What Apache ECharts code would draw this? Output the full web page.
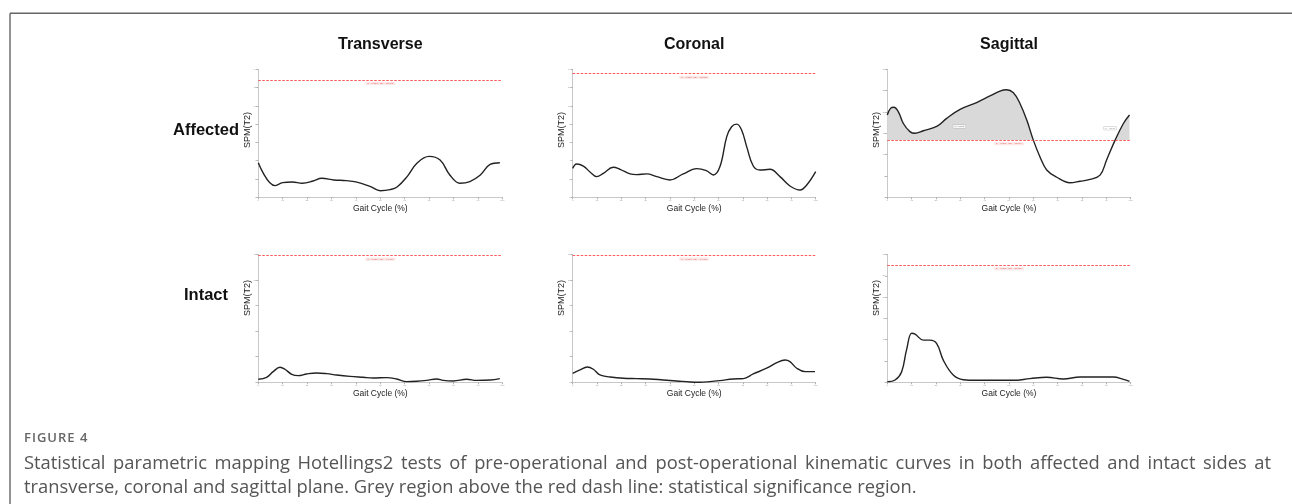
<!DOCTYPE html>
<html>
<head>
<meta charset="utf-8">
<script src="https://cdn.jsdelivr.net/npm/echarts@6/dist/echarts.min.js"></script>
<style>
  html, body { margin: 0; padding: 0; background: #fff; }
  #wrap { position: relative; width: 1292px; height: 504px; overflow: hidden; }
  #chart { position: absolute; left: 0; top: 0; width: 1292px; height: 504px; }
  .cap { position: absolute; font-family: 'Open Sans', 'Noto Sans', sans-serif; color: #555; }
  #fig { left: 24px; top: 428px; font-size: 13px; font-weight: 600; letter-spacing: 1px; color: #666; }
  #l1 { left: 24px; top: 449px; width: 1247px; font-size: 18.35px; text-align: justify; text-align-last: justify; white-space: nowrap; }
  #l2 { left: 24px; top: 473px; font-size: 18.35px; white-space: nowrap; }
</style>
</head>
<body>
<div id="wrap">
  <div id="chart"></div>
  <div class="cap" id="fig">FIGURE 4</div>
  <div class="cap" id="l1">Statistical parametric mapping Hotellings2 tests of pre-operational and post-operational kinematic curves in both affected and intact sides at</div>
  <div class="cap" id="l2">transverse, coronal and sagittal plane. Grey region above the red dash line: statistical significance region.</div>
</div>
<script>
// ---- data (x = gait cycle %, y = SPM{T2}) ----
const columnTitles = ['Transverse', 'Coronal', 'Sagittal'];
const rowTitles = ['Affected', 'Intact'];
const xTicks = [0, 10, 20, 30, 40, 50, 60, 70, 80, 90, 100];

const transAff = [[0,3.78],[6.8,1.28],[10,1.6],[14,1.68],[18,1.54],[22.5,1.78],[26,2.08],[31,1.9],[36,1.82],[40,1.68],[46,1.16],[50,0.72],[54,0.84],[57,1.16],[61,2.26],[65,3.72],[70,4.48],[74.5,4.08],[78.5,2.44],[82.6,1.54],[86.7,1.72],[91,2.44],[95,3.6],[99,3.78]];
const corAff = [[0,3.16],[1.6,3.64],[4.4,3.42],[7,2.8],[9.9,2.26],[12.6,2.62],[16.7,3.28],[19.5,3.06],[23.6,2.56],[26.3,2.48],[30.5,2.56],[34.6,2.26],[40,1.9],[45.5,2.56],[51,3.14],[55,2.92],[57.9,2.44],[60.6,3.36],[63.4,6.64],[65.4,7.72],[67.5,8.0],[69.5,7.36],[71.6,5.54],[74.3,3.42],[77,2.98],[81.2,3.06],[85.3,2.26],[89.4,1.24],[93.6,0.8],[96.3,1.34],[100,2.8]];
const sagAff = [[0,19.3],[1.4,20.9],[2.7,21.1],[4.5,20.1],[6.6,17.3],[9.3,15.4],[11.4,15.0],[14.8,15.6],[20.3,16.6],[24.4,18.5],[29.9,20.6],[36.7,22.2],[42.2,23.75],[46.3,24.9],[49,25.2],[51.8,24.5],[54.5,22.0],[57.3,18.1],[60,13.4],[62.7,9.5],[65.5,6.4],[69.6,4.7],[75,3.4],[79.2,3.75],[83.3,4.2],[87.4,5.2],[90.1,8.75],[93.6,13.4],[97,17.3],[99.5,19.3]];
const transInt = [[0,0.35],[3.4,0.59],[6.1,1.25],[8.9,1.76],[10.9,1.53],[13.7,0.94],[16.4,0.78],[19.8,0.98],[23.9,1.1],[28,1.02],[32.1,0.86],[37.6,0.7],[43,0.59],[47.1,0.51],[52.6,0.55],[56.7,0.39],[60.8,0.08],[64.9,0.12],[69,0.23],[73.1,0.39],[75.8,0.23],[79.9,0.16],[85.4,0.35],[89.5,0.23],[95,0.27],[99,0.43]];
const corInt = [[0,1.06],[3,1.45],[6,1.8],[8.5,1.53],[11.2,0.86],[15.4,0.63],[20.9,0.47],[26.3,0.43],[31.8,0.39],[37.3,0.27],[42.8,0.16],[48.3,0.04],[52.4,0.0],[56.5,0.08],[60.6,0.2],[66.1,0.39],[70.2,0.43],[74.3,0.98],[79.8,1.65],[84,2.31],[87.4,2.62],[89.4,2.43],[92.2,1.65],[95.6,1.25],[99.7,1.25]];
const sagInt = [[0,0.16],[3.2,0.55],[5.9,2.5],[7.9,7.6],[10,11.5],[11.4,11.3],[14.8,9.9],[17.5,9.9],[20.3,9.1],[23,5.2],[27.1,1.7],[31.2,0.6],[36.7,0.47],[44.9,0.47],[51.8,0.47],[58.6,0.86],[65.5,1.17],[72.3,0.78],[79.2,1.25],[86,1.25],[92.9,1.25],[97,0.7],[99.5,0.23]];

const thresholds = [12.842, 13.516, 13.414, 14.876, 14.876, 27.5];
const yMaxes = [14, 14, 30, 15, 15, 30];
const ySteps = [2, 2, 5, 3, 3, 5];
const sagPValues = [[29.6, 16.6, 'p < 0.001'], [91.5, 16.2, 'p = 0.046']];

// ---- layout ----
const FONT = "'Liberation Sans', Arial, sans-serif";
const colLeft = [258.3, 572.7, 887.3];
const colWidth = [244, 243, 243.4];
const rowTop = [69.3, 254.5];
const rowHeight = [128, 127.8];
const seriesData = [transAff, corAff, sagAff, transInt, corInt, sagInt];

const grids = [], xAxes = [], yAxes = [], series = [];
for (let i = 0; i < 6; i++) {
  const r = Math.floor(i / 3), c = i % 3;
  grids.push({ left: colLeft[c], top: rowTop[r], width: colWidth[c], height: rowHeight[r] });
  xAxes.push({
    type: 'value', gridIndex: i, min: 0, max: 100, interval: 10,
    name: 'Gait Cycle (%)', nameLocation: 'middle', nameGap: 7,
    nameTextStyle: { fontFamily: FONT, fontSize: 8.5, color: '#222' },
    axisLine: { lineStyle: { color: '#c8c8c8', width: 1 } },
    axisTick: { length: 2, lineStyle: { color: '#b0b0b0' } },
    axisLabel: { fontSize: 2.5, color: '#999', margin: 2 },
    splitLine: { show: false }
  });
  yAxes.push({
    type: 'value', gridIndex: i, min: 0, max: yMaxes[i], interval: ySteps[i],
    axisLine: { show: true, lineStyle: { color: '#c8c8c8', width: 1 } },
    axisTick: { show: true, length: 2, lineStyle: { color: '#b0b0b0' } },
    axisLabel: { fontSize: 2.5, color: '#999', margin: 2 },
    splitLine: { show: false }
  });
  const thr = thresholds[i];
  if (i === 2) {
    // grey significance region (curve above threshold)
    series.push({
      id: 'sigArea', type: 'line', xAxisIndex: i, yAxisIndex: i, data: seriesData[i],
      smooth: 0.4, showSymbol: false, silent: true, z: 1,
      lineStyle: { opacity: 0 },
      areaStyle: { opacity: 1, origin: 'start' }
    });
  }
  series.push({
    type: 'line', xAxisIndex: i, yAxisIndex: i, data: seriesData[i],
    smooth: 0.4, showSymbol: false, z: 3,
    lineStyle: { color: '#222', width: 1.4 },
    markLine: {
      silent: true, symbol: 'none',
      lineStyle: { color: '#ff3b3b', type: [2.5, 1.5], width: 1.2, opacity: 0.85 },
      emphasis: { disabled: true },
      label: {
        show: true, position: 'insideMiddleBottom', distance: 2,
        formatter: 'α = 0.050:  T2* = ' + thr.toFixed(3),
        fontSize: 2.4, color: '#e04848', backgroundColor: '#fbe3e3',
        padding: [0.6, 2]
      },
      data: [{ yAxis: thr }]
    }
  });
  if (i === 2) {
    series.push({
      type: 'scatter', xAxisIndex: i, yAxisIndex: i, symbolSize: 0, z: 4,
      data: sagPValues.map(p => ({ value: [p[0], p[1]], name: p[2] })),
      label: {
        show: true, position: 'inside', formatter: p => p.name,
        fontSize: 2.2, color: '#444', backgroundColor: '#fff',
        borderColor: '#aaa', borderWidth: 0.4, padding: [0.6, 1.5]
      }
    });
  }
}

const graphics = [
  { type: 'line', shape: { x1: 10, y1: 13.3, x2: 1300, y2: 13.3 }, style: { stroke: '#666', lineWidth: 1.4 } },
  { type: 'line', shape: { x1: 10, y1: 13.3, x2: 10, y2: 510 }, style: { stroke: '#666', lineWidth: 1.4 } }
];
columnTitles.forEach((t, c) => graphics.push({
  type: 'text', x: colLeft[c] + colWidth[c] / 2, y: 45,
  style: { text: t, font: 'bold 16px ' + FONT, fill: '#111', align: 'center', verticalAlign: 'middle' }
}));
const rowLabelY = [130, 295];
const yNameY = [130, 298];
rowTitles.forEach((t, r) => {
  graphics.push({
    type: 'text', x: 206, y: rowLabelY[r],
    style: { text: t, font: 'bold 16.5px ' + FONT, fill: '#111', align: 'center', verticalAlign: 'middle' }
  });
});
for (let i = 0; i < 6; i++) {
  const r = Math.floor(i / 3), c = i % 3;
  graphics.push({
    type: 'text', x: colLeft[c] - 11, y: yNameY[r], rotation: Math.PI / 2,
    style: { text: 'SPM(T2)', font: '9px ' + FONT, fill: '#222', align: 'center', verticalAlign: 'middle' }
  });
}

const chart = echarts.init(document.getElementById('chart'), null, { renderer: 'canvas' });
chart.setOption({
  animation: false,
  backgroundColor: '#fff',
  grid: grids, xAxis: xAxes, yAxis: yAxes,
  visualMap: [{
    type: 'piecewise', show: false, seriesIndex: 2, dimension: 1,
    pieces: [
      { gt: thresholds[2], lte: 1000, color: '#d9d9d9' },
      { gte: -1000, lte: thresholds[2], color: 'rgba(255,255,255,0)' }
    ]
  }],
  graphic: graphics,
  series: series
});
</script>
</body>
</html>
